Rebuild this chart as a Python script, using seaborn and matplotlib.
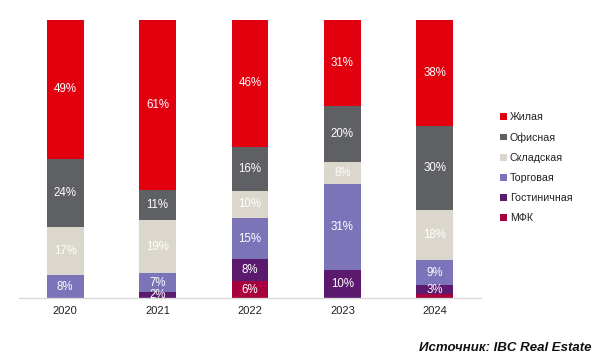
import numpy as np
import pandas as pd
import matplotlib
matplotlib.use("Agg")
import matplotlib.pyplot as plt
import seaborn as sns
from matplotlib.patches import Patch

years = ["2020", "2021", "2022", "2023", "2024"]
categories = ["МФК", "Гостиничная", "Торговая", "Складская", "Офисная", "Жилая"]

# shares per year, %
mfk = [0, 0, 6, 0, 1.5]
hotel = [0, 2, 8, 10, 3]
retail = [8, 7, 15, 31, 9]
warehouse = [17, 19, 10, 8, 18]
office = [24, 11, 16, 20, 30]
residential = [49, 61, 46, 31, 38]

colors = {
    "МФК": "#a8003e",
    "Гостиничная": "#5b1a6e",
    "Торговая": "#7b74b8",
    "Складская": "#dcd7cc",
    "Офисная": "#5f6063",
    "Жилая": "#e2000f",
}

sns.set_theme(style="white")
plt.rcParams["font.family"] = ["Liberation Sans", "DejaVu Sans"]

df = pd.DataFrame({
    "МФК": mfk, "Гостиничная": hotel, "Торговая": retail,
    "Складская": warehouse, "Офисная": office, "Жилая": residential,
}, index=years)
shares = df.div(df.sum(axis=1), axis=0) * 100

fig = plt.figure(figsize=(6.02, 3.62), dpi=100)
ax = fig.add_axes([0.0316, 0.1768, 0.7674, 0.768])

bottom = np.zeros(len(years))
for cat in categories:
    vals = shares[cat].values
    sns.barplot(x=years, y=vals, bottom=bottom, color=colors[cat], width=0.4,
                ax=ax, saturation=1, linewidth=0)
    for i, (raw, v) in enumerate(zip(df[cat].values, vals)):
        if raw >= 2:
            ax.text(i, bottom[i] + v / 2, f"{raw:.0f}%", ha="center", va="center",
                    color="white", fontsize=8.3)
    bottom += vals

ax.set_xlim(-0.5, 4.5)
ax.set_ylim(0, 100)
ax.set_yticks([])
ax.set_xlabel("")
ax.set_ylabel("")
for s in ["top", "right", "left"]:
    ax.spines[s].set_visible(False)
ax.spines["bottom"].set_color("#d9d9d9")
ax.spines["bottom"].set_linewidth(1)
ax.tick_params(axis="x", length=0, labelsize=8, colors="#222222", pad=6)

handles = [Patch(facecolor=colors[c], edgecolor="none") for c in categories[::-1]]
fig.legend(handles, categories[::-1], loc="upper left", bbox_to_anchor=(0.815, 0.717),
           frameon=False, fontsize=7.7, handlelength=0.6, handleheight=0.6,
           handletextpad=0.3, labelspacing=0.95, labelcolor="#222222")

fig.text(0.983, 0.04, "Источник: IBC Real Estate", ha="right", va="center",
         fontsize=9.5, fontweight="bold", style="italic", color="#111111")

fig.savefig("out.png", dpi=100)
